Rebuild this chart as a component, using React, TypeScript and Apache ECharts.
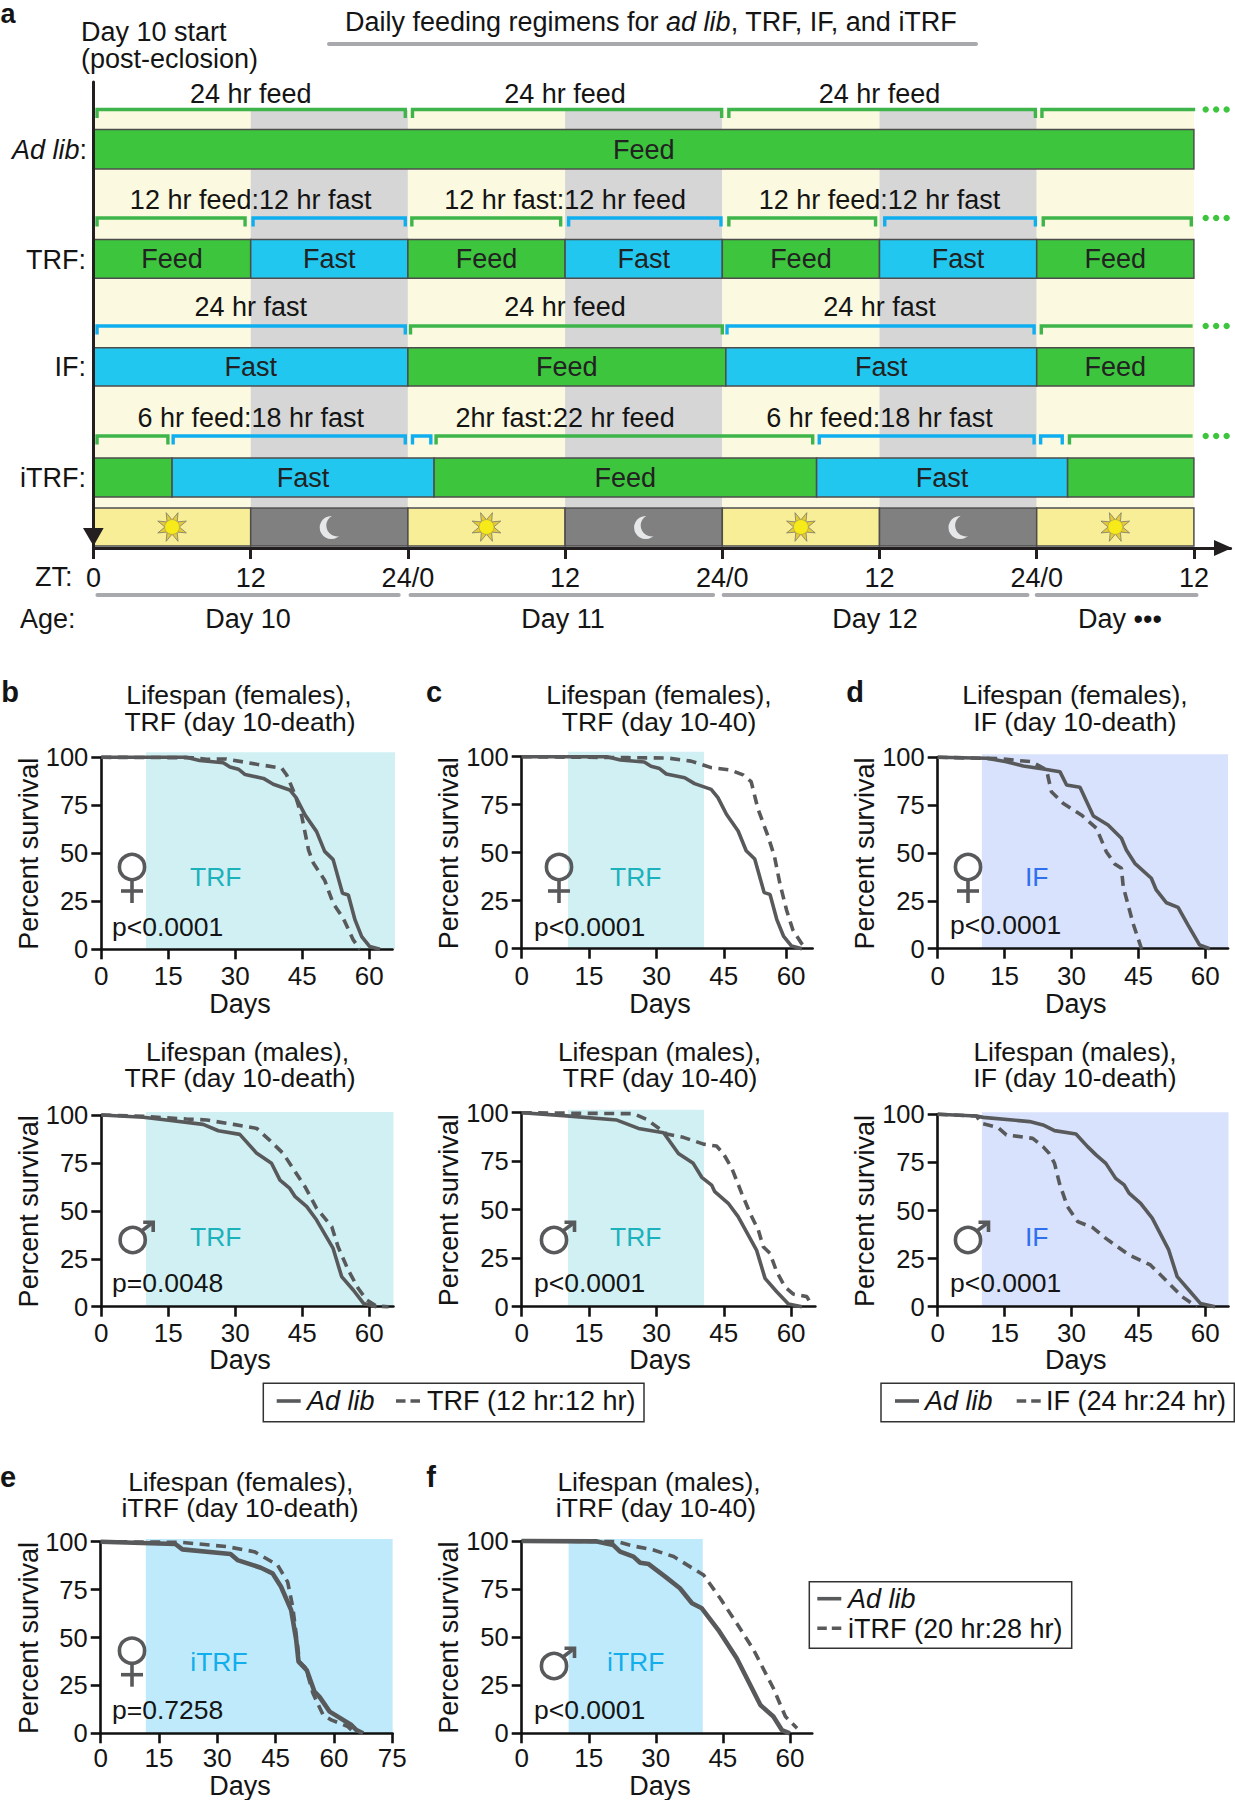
import React, { useEffect, useRef } from "react";
import * as echarts from "echarts";

// ---------- Panel a data (hours since ZT0 of day 10) ----------
const ztTicks = [0, 12, 24, 36, 48, 60, 72, 84];
const ztLabels = ["0", "12", "24/0", "12", "24/0", "12", "24/0", "12"];
const dayNight = [[0, 12, "light"], [12, 24, "dark"], [24, 36, "light"], [36, 48, "dark"], [48, 60, "light"], [60, 72, "dark"], [72, 84, "light"]];
const adLibBar = [[0, 84, "Feed", "Feed"]];
const trfBar = [[0, 12, "Feed", "Feed"], [12, 24, "Fast", "Fast"], [24, 36, "Feed", "Feed"], [36, 48, "Fast", "Fast"], [48, 60, "Feed", "Feed"], [60, 72, "Fast", "Fast"], [72, 84, "Feed", "Feed"]];
const ifBar = [[0, 24, "Fast", "Fast"], [24, 48.27, "Feed", "Feed"], [48.27, 72, "Fast", "Fast"], [72, 84, "Feed", "Feed"]];
const itrfBar = [[0, 6, "Feed", ""], [6, 26, "Fast", "Fast"], [26, 55.2, "Feed", "Feed"], [55.2, 74.36, "Fast", "Fast"], [74.36, 84, "Feed", ""]];
const adLibBrackets = [[0.27, 23.8, "Feed", 0], [24.35, 47.95, "Feed", 0], [48.5, 71.9, "Feed", 0], [72.4, 84.1, "Feed", 1]];
const trfBrackets = [[0.27, 11.57, "Feed", 0], [12.18, 23.8, "Fast", 0], [24.3, 35.66, "Feed", 0], [36.27, 47.9, "Fast", 0], [48.5, 59.7, "Feed", 0], [60.4, 71.9, "Fast", 0], [72.5, 83.8, "Feed", 0]];
const ifBrackets = [[0.27, 23.8, "Fast", 0], [24.2, 48, "Feed", 0], [48.36, 71.8, "Fast", 0], [72.35, 83.9, "Feed", 1]];
const itrfBrackets = [[0.27, 5.68, "Feed", 0], [6.08, 23.8, "Fast", 0], [24.35, 25.75, "Fast", 0], [26.15, 54.9, "Feed", 0], [55.4, 71.8, "Fast", 0], [72.3, 73.95, "Fast", 0], [74.5, 83.9, "Feed", 1]];
const noteHours = [12, 36, 60];
const adLibNotes = ["24 hr feed", "24 hr feed", "24 hr feed"];
const trfNotes = ["12 hr feed:12 hr fast", "12 hr fast:12 hr feed", "12 hr feed:12 hr fast"];
const ifNotes = ["24 hr fast", "24 hr feed", "24 hr fast"];
const itrfNotes = ["6 hr feed:18 hr fast", "2hr fast:22 hr feed", "6 hr feed:18 hr fast"];
const moreDots = [84.9, 85.7, 86.5];
const ageSpans = [[0.3, 23.3], [24.2, 47.3], [48.1, 71.3], [72, 84.2]];

// ---------- Survival curves: [day, percent survival] ----------
const femaleAdLib = [[0, 100], [19, 100], [22, 98.3], [27.3, 97.2], [28.8, 95], [30.7, 93.8], [32.2, 91], [36.3, 89], [38.5, 86], [42.2, 83], [43.7, 78.7], [45.6, 70], [48.2, 61.3], [50, 51], [51.9, 46.7], [54, 29.2], [55.3, 28.3], [56.8, 15.3], [58.3, 6.6], [60.1, 1.4], [62.4, 0]];
const femaleTrfDeath = [[0, 100], [20.6, 99.8], [23.6, 99], [28, 99.1], [34.8, 96.4], [40.4, 94.3], [41.5, 90.8], [43.4, 80.4], [44.9, 69], [46.4, 51.7], [47.5, 44.8], [50, 36], [51.9, 24], [54.2, 16], [56.4, 4.9], [57.9, 0]];
const femaleTrf40 = [[0, 100], [23.5, 99.5], [32.5, 99.3], [37.7, 97.7], [42.2, 94.3], [46.6, 93], [49.3, 90.5], [51.1, 87], [52.6, 73], [54.9, 58.3], [56.3, 48], [57.5, 34], [59, 20], [60.4, 9.7], [62.3, 2.8], [63.4, 0]];
const femaleAdLibD = [[0, 100], [11, 99.5], [15.4, 97.7], [19.2, 95.5], [23.7, 93.9], [27.4, 92.5], [28.9, 85.5], [31.9, 84.3], [34.9, 69.3], [38.2, 64.6], [41.2, 57.7], [42.3, 51.6], [44.2, 44.6], [47.9, 36.8], [49, 30.7], [51.3, 24], [53.9, 21.6], [56.1, 12.4], [58.7, 2], [61, 0]];
const femaleIf = [[0, 100], [14, 99.3], [17.7, 98.4], [21, 97.7], [24.4, 93.4], [25.5, 82], [28.1, 76], [32.2, 69.9], [35.6, 62.9], [37.8, 50.7], [39.7, 44.3], [41.2, 42], [41.6, 32.4], [43.8, 13.2], [45.7, 0]];
const maleAdLib = [[0, 100], [9.4, 98.8], [14.6, 97.4], [22.8, 95.1], [26.2, 91.8], [31, 89.9], [34.8, 80], [38.1, 74.8], [40, 66], [42.2, 61.7], [43.4, 57.4], [46, 52.2], [48.2, 45.2], [51.9, 30.4], [53.8, 15.7], [56.4, 8.7], [58.7, 1.7], [61.6, 0]];
const maleTrfDeath = [[0, 100], [9.4, 99.3], [19.1, 97.9], [23.6, 97.4], [29.6, 95.1], [34.8, 93], [37.8, 86.6], [40.7, 80], [43.4, 70.4], [45.6, 62.6], [48.2, 51.3], [51.6, 41.7], [53, 31.3], [55.3, 19], [57.5, 9.6], [59.4, 3.5], [61.6, 0.3], [64.3, 0]];
const maleAdLibC = [[0, 100], [9.3, 98.5], [21.2, 96.2], [26, 91.9], [31.6, 89.7], [34.9, 79], [38.2, 73.9], [40.1, 66.7], [42.3, 62.7], [43, 59.3], [46, 53.3], [48.2, 46.4], [52.3, 29.2], [54.2, 14.6], [56.8, 7.7], [59.4, 1.4], [62.4, 0]];
const maleTrf40 = [[0, 100], [7, 99.8], [24.9, 99.5], [27.8, 96.6], [32.3, 89], [36, 87.3], [40.5, 83.8], [43.4, 82.8], [44.9, 79], [46.8, 71.3], [49, 58.4], [50.9, 48], [52.7, 39.5], [53.8, 30.9], [55.3, 27.5], [56.8, 18], [58.6, 10.3], [60.5, 6.5], [63.5, 5.2], [64.6, 0.9]];
const maleAdLibD = [[0, 100], [8.7, 99.1], [10.2, 98.4], [20.6, 96.2], [23.6, 94.5], [26.2, 91.5], [31, 89.8], [33.6, 83.2], [35.5, 78.9], [37.7, 74.5], [39.9, 66.7], [41.8, 63.3], [42.9, 59], [45.5, 53.7], [48.1, 46], [51.8, 29.5], [53.7, 15.6], [56.3, 8.7], [58.9, 1.7], [62.2, 0]];
const maleIf = [[0, 100], [8.7, 99.1], [9.8, 95.3], [13.5, 93.2], [15.4, 89.3], [21.3, 87.5], [23.6, 83.2], [25, 79.7], [26.2, 74.5], [27.3, 64.1], [29.1, 52], [31.4, 44.2], [34.7, 41.2], [37.7, 35.5], [42.9, 26.9], [47.7, 21.7], [51.1, 13.9], [54.8, 5.2], [58.1, 0]];
const femaleAdLibE = [[0, 100], [19.2, 98.8], [21, 96], [33.4, 93.6], [35.2, 90.4], [41.2, 86.4], [44.2, 83.5], [46.4, 76.5], [49, 64.3], [50.3, 48.7], [50.9, 37.4], [53, 33], [55, 21.7], [56.3, 19], [58.9, 11.3], [64.5, 4.3], [65.8, 1.7], [67.5, 0]];
const femaleItrf = [[0, 100], [20.5, 99.7], [32.6, 97.4], [39.5, 94.8], [45.5, 87.8], [48.1, 79], [49.4, 66], [50.7, 45], [51.1, 37.4], [52.8, 34], [54.6, 20.9], [57.2, 9.6], [59.3, 7], [63.6, 3.5], [65.3, 0.3]];
const maleAdLibF = [[0, 100], [16.8, 99.8], [20.5, 97.9], [22, 94.5], [25, 91.9], [26.5, 88.7], [28.4, 88], [32.1, 81.5], [35.4, 75.4], [38.1, 67.6], [40.3, 65], [44, 53.7], [48.1, 39], [53.4, 14.7], [56.3, 8.7], [58.2, 1.7], [60, 0]];
const maleItrf = [[0, 100], [21.3, 99.7], [25, 97.4], [29.5, 95.3], [34, 91.9], [40.7, 82.3], [44.4, 70.2], [48.1, 57.2], [51.9, 43.3], [56.3, 23.4], [59, 8.7], [61.6, 2.6]];

const dayTicks = [0, 15, 30, 45, 60];
const dayTicksLong = [0, 15, 30, 45, 60, 75];

// ---------- Styles and layout ----------
const FONT = '"Liberation Sans"';
const INK = "#141414";
const CURVE = "#58595B";
const FEED = "#3DC53D";
const FAST = "#22C7EF";
const BR_FEED = "#3DB54A";
const BR_FAST = "#0FAEEF";
const EDGE = "#4D4D4D";
const TEAL = { bg: "#D1F0F3", fg: "#1DB1BC" };
const BLUE = { bg: "#D8E2FC", fg: "#2E6FF0" };
const SKY = { bg: "#BFEAFB", fg: "#12AEEB" };

const T = (text: string, x: number, y: number, o: any = {}) => ({
  type: "text", x, y, z: 50, rotation: o.rotation || 0,
  style: {
    text, fill: o.color || INK, fontSize: o.size || 27, fontFamily: FONT,
    fontStyle: o.italic ? "italic" : "normal", fontWeight: o.bold ? "bold" : "normal",
    align: o.align || "center", verticalAlign: "middle", rich: o.rich,
  },
});
const L = (x1: number, y1: number, x2: number, y2: number, color: string, w: number, dash?: number[], cap = "butt") => ({
  type: "line", z: 50, shape: { x1, y1, x2, y2 },
  style: { stroke: color, lineWidth: w, lineDash: dash, lineCap: cap },
});
const female = (cx: number, cy: number) => [
  { type: "circle", z: 50, shape: { cx, cy, r: 12.6 }, style: { fill: "none", stroke: CURVE, lineWidth: 3.6 } },
  L(cx, cy + 13, cx, cy + 36, CURVE, 3.6),
  L(cx - 11, cy + 24, cx + 11, cy + 24, CURVE, 3.6),
];
const male = (cx: number, cy: number) => [
  { type: "circle", z: 50, shape: { cx, cy, r: 12.6 }, style: { fill: "none", stroke: CURVE, lineWidth: 3.6 } },
  L(cx + 9, cy - 9, cx + 19.5, cy - 17, CURVE, 3.6),
  { type: "polyline", z: 50, shape: { points: [[cx + 10.5, cy - 17.8], [cx + 20.5, cy - 17.8], [cx + 20.5, cy - 8]] }, style: { fill: "none", stroke: CURVE, lineWidth: 3.6 } },
];

const panels: any[] = [
  { x0: 101.3, ppd: 4.467, xMax: 65.2, y100: 757.3, y0: 949.3, shade: [10, 65.75], over: 5, theme: TEAL, word: "TRF", wordX: 215.7, wordY: 877, solid: femaleAdLib, dashed: femaleTrfDeath, dashedName: "TRF (12 hr:12 hr)", lw: 3.6, title: ["Lifespan (females),", "TRF (day 10-death)"], tx: [239, 240], ty: [695, 722], p: "p<0.0001", px: 112, py: 927, sex: "f", sx: 132, sy: 867, yName: 29, daysX: 240, daysY: 1004, tickY: 975.7 },
  { x0: 521.7, ppd: 4.49, xMax: 64.8, y100: 756.7, y0: 948.7, shade: [10.3, 40.6], over: 5, theme: TEAL, word: "TRF", wordX: 635.7, wordY: 877, solid: femaleAdLib, dashed: femaleTrf40, dashedName: "TRF (12 hr:12 hr)", lw: 3.6, title: ["Lifespan (females),", "TRF (day 10-40)"], tx: [659, 659], ty: [695, 722], p: "p<0.0001", px: 534, py: 927, sex: "f", sx: 559, sy: 867, yName: 449, daysX: 660, daysY: 1004, tickY: 975.7, tickOverride: [0, 15, 30, 45, 58.9] },
  { x0: 937.7, ppd: 4.46, xMax: 65.1, y100: 757.3, y0: 948.7, shade: [9.9, 65.1], over: 3, theme: BLUE, word: "IF", wordX: 1036.7, wordY: 877, solid: femaleAdLibD, dashed: femaleIf, dashedName: "IF (24 hr:24 hr)", lw: 3.6, title: ["Lifespan (females),", "IF (day 10-death)"], tx: [1075, 1075], ty: [695, 722], p: "p<0.0001", px: 950, py: 925, sex: "f", sx: 968, sy: 867, yName: 865, daysX: 1075.7, daysY: 1004, tickY: 975.7 },
  { x0: 101.3, ppd: 4.467, xMax: 65.4, y100: 1115, y0: 1306.7, shade: [10, 65.4], over: 3, theme: TEAL, word: "TRF", wordX: 215.7, wordY: 1236.7, solid: maleAdLib, dashed: maleTrfDeath, dashedName: "TRF (12 hr:12 hr)", lw: 3.6, title: ["Lifespan (males),", "TRF (day 10-death)"], tx: [247.5, 240], ty: [1051.7, 1078.3], p: "p=0.0048", px: 112, py: 1282.7, sex: "m", sx: 132.7, sy: 1240, yName: 29, daysX: 240, daysY: 1360, tickY: 1332.7 },
  { x0: 521.7, ppd: 4.49, xMax: 65.4, y100: 1112.7, y0: 1306.7, shade: [10.3, 40.6], over: 3, theme: TEAL, word: "TRF", wordX: 635.7, wordY: 1236.7, solid: maleAdLibC, dashed: maleTrf40, dashedName: "TRF (12 hr:12 hr)", lw: 3.6, title: ["Lifespan (males),", "TRF (day 10-40)"], tx: [659.5, 660], ty: [1051.7, 1078.3], p: "p<0.0001", px: 534, py: 1282.7, sex: "m", sx: 554, sy: 1240, yName: 449, daysX: 660, daysY: 1360, tickY: 1332.7 },
  { x0: 937.7, ppd: 4.46, xMax: 65.2, y100: 1114.3, y0: 1306.7, shade: [9.9, 65.2], over: 2, theme: BLUE, word: "IF", wordX: 1036.7, wordY: 1236.7, solid: maleAdLibD, dashed: maleIf, dashedName: "IF (24 hr:24 hr)", lw: 3.6, title: ["Lifespan (males),", "IF (day 10-death)"], tx: [1075, 1075], ty: [1051.7, 1078.3], p: "p<0.0001", px: 950, py: 1282.7, sex: "m", sx: 968, sy: 1240, yName: 865, daysX: 1075.7, daysY: 1360, tickY: 1332.7 },
  { x0: 100.7, ppd: 3.887, xMax: 75.1, y100: 1541.7, y0: 1733.3, shade: [11.6, 75.1], over: 2.7, theme: SKY, word: "iTRF", wordX: 219, wordY: 1662.3, solid: femaleAdLibE, dashed: femaleItrf, dashedName: "iTRF (20 hr:28 hr)", lw: 4.6, title: ["Lifespan (females),", "iTRF (day 10-death)"], tx: [240.8, 240], ty: [1481.7, 1508.3], p: "p=0.7258", px: 112, py: 1710, sex: "f", sx: 132, sy: 1650.7, yName: 29, daysX: 240, daysY: 1785.7, tickY: 1757.7, ticks: dayTicksLong },
  { x0: 521.7, ppd: 4.47, xMax: 65, y100: 1541, y0: 1733.3, shade: [10.5, 40.5], over: 2, theme: SKY, word: "iTRF", wordX: 635.7, wordY: 1662.3, solid: maleAdLibF, dashed: maleItrf, dashedName: "iTRF (20 hr:28 hr)", lw: 4.6, title: ["Lifespan (males),", "iTRF (day 10-40)"], tx: [659, 656], ty: [1481.7, 1508.3], p: "p<0.0001", px: 534, py: 1710, sex: "m", sx: 554, sy: 1666, yName: 449, daysX: 660, daysY: 1785.7, tickY: 1757.7 },
];

function buildOption() {
  const grid: any[] = [];
  const xAxis: any[] = [];
  const yAxis: any[] = [];
  const series: any[] = [];
  const graphic: any[] = [];

  // ----- Panel a: one grid with hours along x, page rows along y -----
  const HOUR = 13.1;
  grid.push({ left: 93.5, top: 82, width: 86.8 * HOUR, height: 466 });
  xAxis.push({
    gridIndex: 0, type: "value", min: 0, max: 86.8, z: 5, position: "bottom",
    axisLine: { onZero: false, lineStyle: { color: "#231F20", width: 3 } },
    axisTick: { length: 11, customValues: ztTicks, lineStyle: { color: "#231F20", width: 3 } },
    axisLabel: {
      customValues: ztTicks, margin: 16, fontSize: 27, fontFamily: FONT, color: INK,
      formatter: (v: number) => ztLabels[ztTicks.indexOf(v)],
    },
    splitLine: { show: false },
  });
  yAxis.push({
    gridIndex: 0, type: "value", min: 82, max: 548, inverse: true, z: 5,
    axisLine: { onZero: false, lineStyle: { color: "#231F20", width: 3 } },
    axisTick: { show: false }, axisLabel: { show: false }, splitLine: { show: false },
  });

  const a = { xAxisIndex: 0, yAxisIndex: 0, type: "custom", silent: true, clip: false };
  series.push({
    ...a, z: -1, data: dayNight.map((d) => [d[0], d[1]]),
    renderItem: (p: any, api: any) => {
      const s = api.coord([api.value(0), 110]);
      const e = api.coord([api.value(1), 507]);
      return { type: "rect", shape: { x: s[0], y: s[1], width: e[0] - s[0], height: e[1] - s[1] }, style: { fill: dayNight[p.dataIndex][2] === "light" ? "#FBF9DF" : "#D6D6D6" } };
    },
  });
  series.push({
    ...a, z: 2, data: dayNight.map((d) => [d[0], d[1]]),
    renderItem: (p: any, api: any) => {
      const from = api.value(0), to = api.value(1);
      const s = api.coord([from, 508]);
      const e = api.coord([to, 546]);
      const cx = api.coord([(from + to) / 2, 527])[0];
      const cy = 527;
      const light = dayNight[p.dataIndex][2] === "light";
      const children: any[] = [
        { type: "rect", shape: { x: s[0], y: s[1], width: e[0] - s[0], height: e[1] - s[1] }, style: { fill: light ? "#F7EE97" : "#808080", stroke: EDGE, lineWidth: 1.5 } },
      ];
      if (light) {
        for (let k = 0; k < 8; k++) {
          const t = (k * Math.PI) / 4 + Math.PI / 8;
          const dt = 0.36;
          children.push({
            type: "polygon",
            shape: { points: [[cx + 15.5 * Math.cos(t), cy + 15.5 * Math.sin(t)], [cx + 7.5 * Math.cos(t - dt), cy + 7.5 * Math.sin(t - dt)], [cx + 7.5 * Math.cos(t + dt), cy + 7.5 * Math.sin(t + dt)]] },
            style: { fill: "#E3C93B", stroke: "#6D6E71", lineWidth: 0.7 },
          });
        }
        children.push({ type: "circle", shape: { cx, cy, r: 7.3 }, style: { fill: "#F6EA1B", stroke: "#C9B92A", lineWidth: 0.6 } });
      } else {
        children.push({ type: "circle", shape: { cx: cx + 2, cy: cy + 0.5, r: 11.6 }, style: { fill: "#E6E7E8" } });
        children.push({ type: "circle", shape: { cx: cx + 8, cy: cy - 1.5, r: 11 }, style: { fill: "#808080" } });
      }
      return { type: "group", children };
    },
  });

  const rows = [
    { seg: adLibBar, br: adLibBrackets, notes: adLibNotes, noteY: 93.5, top: 129.5, bot: 169, brY: 109.5 },
    { seg: trfBar, br: trfBrackets, notes: trfNotes, noteY: 200, top: 239.5, bot: 278.3, brY: 218 },
    { seg: ifBar, br: ifBrackets, notes: ifNotes, noteY: 307, top: 347.7, bot: 386, brY: 326 },
    { seg: itrfBar, br: itrfBrackets, notes: itrfNotes, noteY: 418, top: 458, bot: 497, brY: 436 },
  ];
  rows.forEach((r) => {
    series.push({
      ...a, z: 3, data: r.seg.map((d) => [d[0], d[1]]),
      renderItem: (p: any, api: any) => {
        const s = api.coord([api.value(0), r.top]);
        const e = api.coord([api.value(1), r.bot]);
        const seg = r.seg[p.dataIndex];
        return {
          type: "group",
          children: [
            { type: "rect", shape: { x: s[0], y: s[1], width: e[0] - s[0], height: e[1] - s[1] }, style: { fill: seg[2] === "Feed" ? FEED : FAST, stroke: EDGE, lineWidth: 1.5 } },
            { type: "text", style: { text: seg[3], x: (s[0] + e[0]) / 2, y: (s[1] + e[1]) / 2 + 0.5, fill: "#222", fontSize: 27, fontFamily: FONT, align: "center", verticalAlign: "middle" } },
          ],
        };
      },
    });
    series.push({
      ...a, z: 3, data: r.br.map((d) => [d[0], d[1]]),
      renderItem: (p: any, api: any) => {
        const b = r.br[p.dataIndex];
        const s = api.coord([api.value(0), r.brY]);
        const e = api.coord([api.value(1), r.brY]);
        const pts = [[s[0], s[1] + 8.5], [s[0], s[1]], [e[0], e[1]]];
        if (!b[3]) pts.push([e[0], e[1] + 8.5]);
        return { type: "polyline", shape: { points: pts }, style: { fill: "none", stroke: b[2] === "Feed" ? BR_FEED : BR_FAST, lineWidth: 3.4 } };
      },
    });
    series.push({
      ...a, z: 3, data: moreDots.map((h) => [h]),
      renderItem: (p: any, api: any) => {
        const c = api.coord([api.value(0), r.brY]);
        return { type: "circle", shape: { cx: c[0], cy: c[1], r: 3.2 }, style: { fill: FEED } };
      },
    });
    series.push({
      ...a, z: 3, data: noteHours.map((h) => [h]),
      renderItem: (p: any, api: any) => {
        const c = api.coord([api.value(0), r.noteY]);
        return { type: "text", style: { text: r.notes[p.dataIndex], x: c[0], y: c[1], fill: INK, fontSize: 27, fontFamily: FONT, align: "center", verticalAlign: "middle" } };
      },
    });
  });
  series.push({
    ...a, z: 3, data: ageSpans,
    renderItem: (p: any, api: any) => {
      const s = api.coord([api.value(0), 595]);
      const e = api.coord([api.value(1), 595]);
      return { type: "line", shape: { x1: s[0], y1: s[1], x2: e[0], y2: e[1] }, style: { stroke: "#A7A9AC", lineWidth: 4, lineCap: "round" } };
    },
  });

  graphic.push(
    T("a", 8, 14, { bold: true, size: 27 }),
    T("Day 10 start", 81, 32, { align: "left" }),
    T("(post-eclosion)", 81, 59, { align: "left" }),
    {
      type: "text", x: 651, y: 22, z: 50,
      style: {
        text: "Daily feeding regimens for {i|ad lib}, TRF, IF, and iTRF",
        fill: INK, fontSize: 27, fontFamily: FONT, align: "center", verticalAlign: "middle",
        rich: { i: { fontStyle: "italic", fontSize: 27, fontFamily: FONT, fill: INK } },
      },
    },
    L(329, 44, 976, 44, "#A7A9AC", 4, undefined, "round"),
    T("Ad lib", 79.5, 150, { align: "right", italic: true }),
    T(":", 87, 150, { align: "right" }),
    T("TRF:", 86, 260, { align: "right" }),
    T("IF:", 86, 367, { align: "right" }),
    T("iTRF:", 86, 478, { align: "right" }),
    T("ZT:", 35, 577, { align: "left" }),
    T("Age:", 20, 619, { align: "left" }),
    T("Day 10", 248, 619),
    T("Day 11", 563, 619),
    T("Day 12", 875, 619),
    T("Day •••", 1078, 619, { align: "left" }),
    { type: "polygon", z: 50, shape: { points: [[83, 528], [103.6, 528], [93.5, 546]] }, style: { fill: "#231F20" } },
    { type: "polygon", z: 50, shape: { points: [[1214, 540], [1232, 548], [1214, 556]] }, style: { fill: "#231F20" } },
    T("b", 10, 692, { bold: true, size: 29 }),
    T("c", 434, 692, { bold: true, size: 29 }),
    T("d", 855, 692, { bold: true, size: 29 }),
    T("e", 8, 1477, { bold: true, size: 29 }),
    T("f", 431, 1477, { bold: true, size: 29 }),
  );

  // ----- Survival panels -----
  panels.forEach((c, i) => {
    const g = i + 1;
    const ticks = c.ticks || dayTicks;
    grid.push({ left: c.x0, top: c.y100, width: c.xMax * c.ppd, height: c.y0 - c.y100 });
    const axisLine = { onZero: false, lineStyle: { color: "#111", width: 2.6 } };
    xAxis.push({
      gridIndex: g, type: "value", min: 0, max: c.xMax, axisLine,
      axisTick: { length: 10, customValues: c.tickOverride || ticks, lineStyle: { color: "#111", width: 2.6 } },
      axisLabel: { customValues: ticks, margin: c.tickY - c.y0 - 13, fontSize: 26, fontFamily: FONT, color: INK },
      splitLine: { show: false },
    });
    yAxis.push({
      gridIndex: g, type: "value", min: 0, max: 100, interval: 25, axisLine,
      axisTick: { length: 10, lineStyle: { color: "#111", width: 2.6 } },
      axisLabel: { margin: 13, fontSize: 25.5, fontFamily: FONT, color: INK },
      splitLine: { show: false },
    });
    series.push({
      type: "custom", xAxisIndex: g, yAxisIndex: g, z: -1, silent: true, clip: false,
      data: [c.shade],
      renderItem: (p: any, api: any) => {
        const s = api.coord([api.value(0), 100]);
        const e = api.coord([api.value(1), 0]);
        return { type: "rect", shape: { x: s[0], y: s[1] - c.over, width: e[0] - s[0], height: e[1] - s[1] + c.over }, style: { fill: c.theme.bg } };
      },
    });
    series.push({
      type: "line", name: c.dashedName, xAxisIndex: g, yAxisIndex: g, z: 3, clip: false, silent: true,
      showSymbol: false, symbol: "none", data: c.dashed,
      lineStyle: { color: CURVE, width: 3.6, type: [10, 6.5] },
    });
    series.push({
      type: "line", name: "Ad lib", xAxisIndex: g, yAxisIndex: g, z: 4, clip: false, silent: true,
      showSymbol: false, symbol: "none", data: c.solid,
      lineStyle: { color: CURVE, width: c.lw },
    });
    graphic.push(
      T(c.title[0], c.tx[0], c.ty[0], { size: 26.5 }),
      T(c.title[1], c.tx[1], c.ty[1], { size: 26.5 }),
      T("Percent survival", c.yName, (c.y100 + c.y0) / 2 + 0.5, { rotation: Math.PI / 2 }),
      T("Days", c.daysX, c.daysY),
      T(c.p, c.px, c.py, { align: "left", size: 26.5 }),
      T(c.word, c.wordX, c.wordY, { color: c.theme.fg, size: 26.5 }),
      ...(c.sex === "f" ? female(c.sx, c.sy) : male(c.sx, c.sy)),
    );
  });

  // ----- Legends -----
  const box = (x1: number, y1: number, x2: number, y2: number) => ({
    type: "rect", z: 49, shape: { x: x1, y: y1, width: x2 - x1, height: y2 - y1 }, style: { fill: "#fff", stroke: "#333", lineWidth: 1.5 },
  });
  const solidKey = (x: number, y: number) => L(x, y, x + 24, y, CURVE, 3.6);
  const dashKey = (x: number, y: number) => L(x, y, x + 24, y, CURVE, 3.6, [9.5, 5]);
  graphic.push(
    box(263.3, 1383.3, 644, 1421.7),
    solidKey(276.7, 1401), T("Ad lib", 307, 1401, { align: "left", italic: true }),
    dashKey(396, 1401), T("TRF (12 hr:12 hr)", 427, 1401, { align: "left" }),
    box(881, 1383.3, 1234.3, 1421.7),
    solidKey(895, 1401), T("Ad lib", 925, 1401, { align: "left", italic: true }),
    dashKey(1016.7, 1401), T("IF (24 hr:24 hr)", 1046, 1401, { align: "left" }),
    box(809.3, 1581.7, 1071.7, 1648.3),
    solidKey(817.3, 1598.7), T("Ad lib", 848, 1599, { align: "left", italic: true }),
    dashKey(817.3, 1628.3), T("iTRF (20 hr:28 hr)", 848, 1629, { align: "left" }),
  );

  return { animation: false, backgroundColor: "#fff", grid, xAxis, yAxis, series, graphic: { elements: graphic }, tooltip: { show: false }, legend: { show: false } };
}

export default function App() {
  const ref = useRef<HTMLDivElement>(null);
  useEffect(() => {
    const chart = echarts.init(ref.current!, undefined, { renderer: "svg" });
    chart.setOption(buildOption() as any);
    return () => chart.dispose();
  }, []);
  return <div ref={ref} style={{ position: "absolute", left: 0, top: 0, width: 1235, height: 1800 }} />;
}
